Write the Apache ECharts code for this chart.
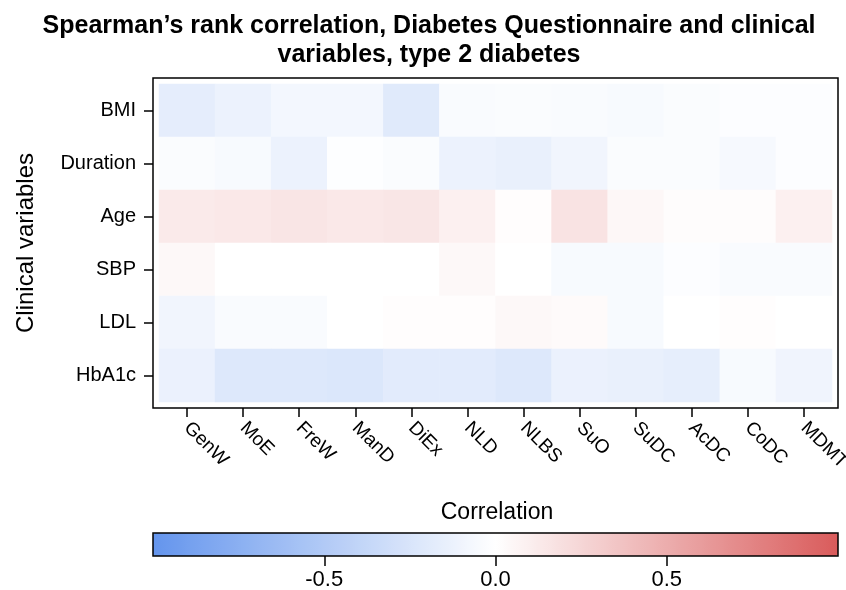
<!DOCTYPE html>
<html>
<head>
<meta charset="utf-8">
<script src="https://cdn.jsdelivr.net/npm/echarts@6/dist/echarts.min.js"></script>
<style>
  html, body { margin: 0; padding: 0; background: #fff; }
  #chart { width: 846px; height: 590px; }
</style>
</head>
<body>
<div id="chart"></div>
<script>
const questionnaire = ['GenW', 'MoE', 'FreW', 'ManD', 'DiEx', 'NLD', 'NLBS', 'SuO', 'SuDC', 'AcDC', 'CoDC', 'MDMT'];
const clinical = ['BMI', 'Duration', 'Age', 'SBP', 'LDL', 'HbA1c'];

const bmi      = [-0.17, -0.12, -0.08, -0.08, -0.20, -0.04, -0.03, -0.04, -0.05, -0.03, -0.02, -0.02];
const duration = [-0.03, -0.05, -0.12, -0.01, -0.03, -0.12, -0.14, -0.09, -0.03, -0.03, -0.06, -0.02];
const age      = [0.13, 0.14, 0.16, 0.14, 0.15, 0.09, 0.01, 0.17, 0.05, 0.02, 0.02, 0.09];
const sbp      = [0.04, 0.00, 0.00, 0.00, 0.00, 0.04, 0.00, -0.05, -0.05, -0.02, -0.04, -0.04];
const ldl      = [-0.09, -0.04, -0.04, 0.00, 0.01, 0.01, 0.04, 0.03, -0.05, 0.00, 0.01, 0.00];
const hba1c    = [-0.13, -0.22, -0.22, -0.23, -0.19, -0.19, -0.22, -0.13, -0.14, -0.16, -0.05, -0.10];

const rows = [bmi, duration, age, sbp, ldl, hba1c];
const cbTicks = [-0.5, 0, 0.5];

const cells = [];
rows.forEach((vals, yi) => {
    vals.forEach((v, xi) => {
        cells.push([xi, yi, v]);
    });
});

const font = '"Liberation Sans", Arial, Helvetica, sans-serif';
const chart = echarts.init(document.getElementById('chart'));

chart.setOption({
    backgroundColor: '#fff',
    textStyle: { fontFamily: font, color: '#000' },
    title: [{
        text: 'Spearman\u2019s rank correlation, Diabetes Questionnaire and clinical\nvariables, type 2 diabetes',
        left: 429,
        top: 12,
        padding: 0,
        textAlign: 'center',
        textStyle: { fontFamily: font, fontSize: 25, fontWeight: 'bold', color: '#000', lineHeight: 29 }
    }, {
        text: 'Correlation',
        left: 497,
        top: 501,
        padding: 0,
        textAlign: 'center',
        textStyle: { fontFamily: font, fontSize: 23, fontWeight: 'normal', color: '#000' }
    }],
    grid: [
        // frame round the heatmap
        { left: 153, top: 78, width: 685, height: 330, show: true, borderColor: '#000', borderWidth: 1.5,
          backgroundColor: 'transparent', z: 5, outerBoundsMode: 'none' },
        // cell area
        { left: 159, top: 84, width: 673, height: 318, outerBoundsMode: 'none' },
        // colorbar frame
        { left: 153, top: 533, width: 685, height: 23, show: true, borderColor: '#000', borderWidth: 1.5,
          backgroundColor: 'transparent', z: 10, outerBoundsMode: 'none' }
    ],
    xAxis: [
        { gridIndex: 0, type: 'value', show: false },
        {
            gridIndex: 1,
            type: 'category',
            data: questionnaire,
            position: 'bottom',
            offset: 6,
            axisLine: { show: false },
            axisTick: { show: true, alignWithLabel: true, length: 9, lineStyle: { color: '#000', width: 1.5 } },
            axisLabel: { rotate: -45, margin: 17, fontSize: 19, color: '#000', fontFamily: font },
            splitLine: { show: false }
        },
        {
            gridIndex: 2,
            type: 'value',
            min: -1,
            max: 1,
            interval: 0.5,
            axisLine: { show: false },
            axisTick: { show: true, customValues: cbTicks, length: 10, lineStyle: { color: '#000', width: 1.5 } },
            axisLabel: { customValues: cbTicks, margin: 13, fontSize: 22, color: '#000', fontFamily: font,
                formatter: v => v.toFixed(1) },
            splitLine: { show: false }
        }
    ],
    yAxis: [
        { gridIndex: 0, type: 'value', show: false },
        {
            gridIndex: 1,
            type: 'category',
            data: clinical,
            inverse: true,
            offset: 6,
            name: 'Clinical variables',
            nameLocation: 'middle',
            nameGap: 115,
            nameTextStyle: { fontSize: 24, color: '#000', fontFamily: font },
            axisLine: { show: false },
            axisTick: { show: true, alignWithLabel: true, length: 9, lineStyle: { color: '#000', width: 1.5 } },
            axisLabel: { margin: 17, fontSize: 20, color: '#000', fontFamily: font },
            splitLine: { show: false }
        },
        { gridIndex: 2, type: 'value', show: false }
    ],
    visualMap: {
        type: 'continuous',
        min: -1,
        max: 1,
        orient: 'horizontal',
        left: 153,
        top: 533,
        padding: 0,
        itemWidth: 23,
        itemHeight: 685,
        calculable: false,
        seriesIndex: 0,
        inRange: { color: ['#6495ED', '#ffffff', '#D95B5B'] }
    },
    series: [{
        type: 'heatmap',
        xAxisIndex: 1,
        yAxisIndex: 1,
        data: cells,
        itemStyle: { borderWidth: 0 },
        emphasis: { disabled: true }
    }]
});
</script>
</body>
</html>
